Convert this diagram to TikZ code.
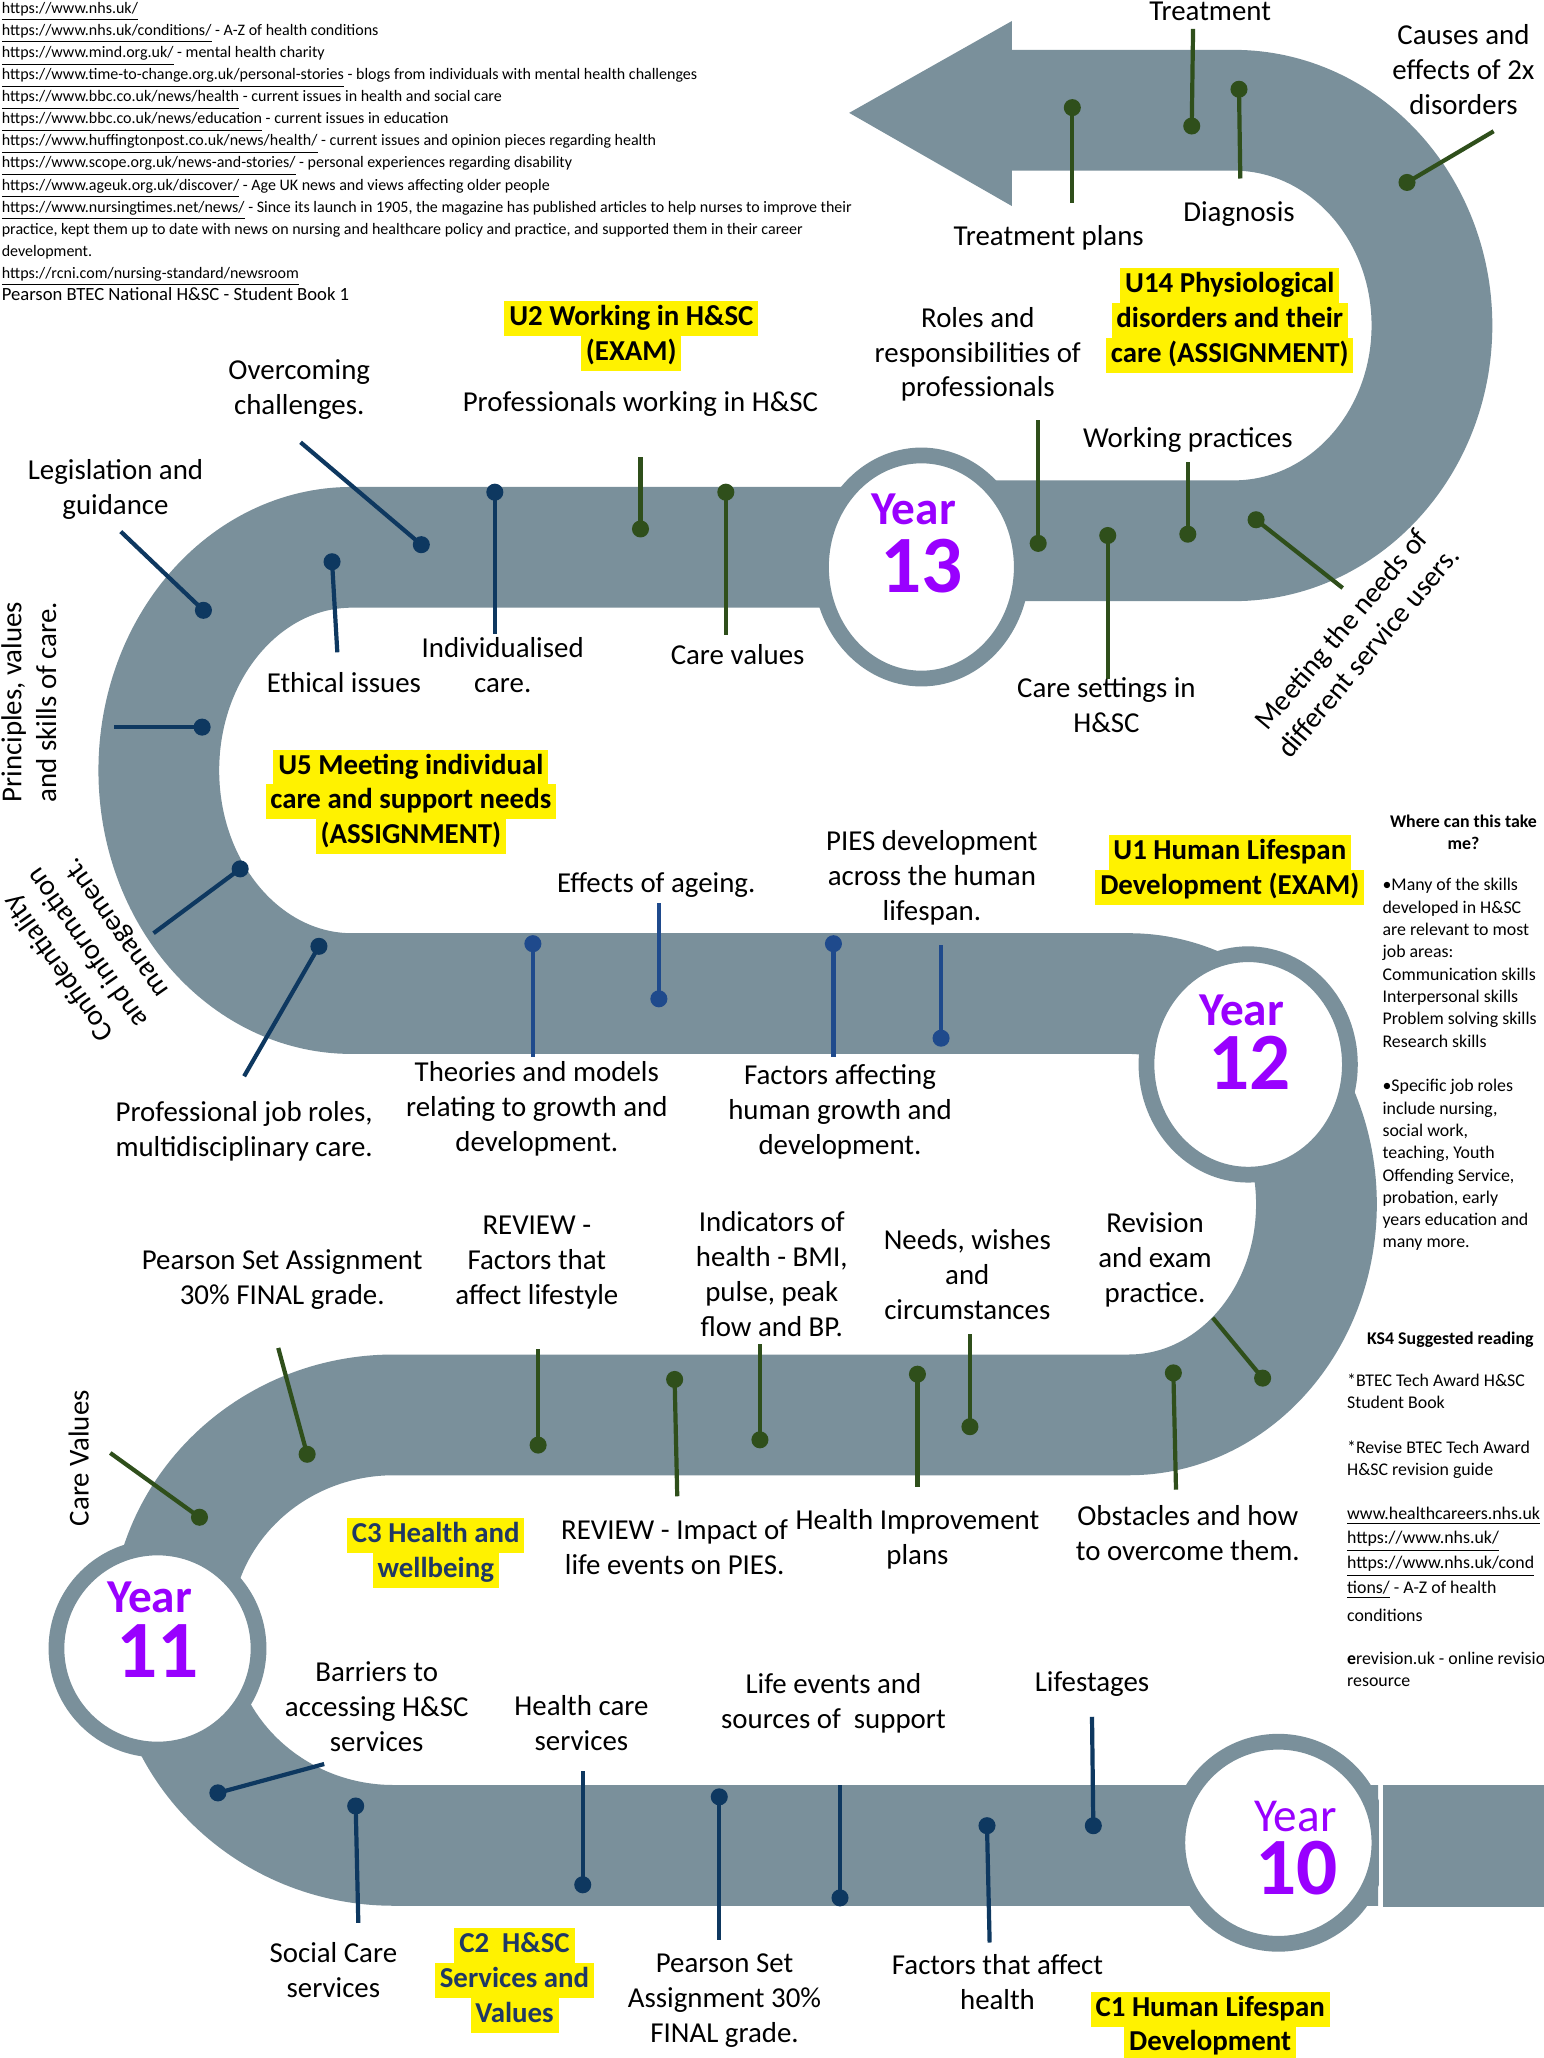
\documentclass[tikz,border=0pt]{standalone}
\usepackage{fontspec}
\setmainfont{Carlito}
\usetikzlibrary{shapes.geometric}

\definecolor{bandgrey}{RGB}{122,144,155}
\definecolor{mgreen}{RGB}{47,79,27}
\definecolor{mnavy}{RGB}{14,56,96}
\definecolor{mblue}{RGB}{31,74,140}
\definecolor{yrpurple}{RGB}{153,0,255}
\definecolor{unavy}{RGB}{31,56,100}

\newcommand{\hlbox}[1]{{\setlength{\fboxsep}{0pt}\colorbox{yellow}{\strut\,#1\,}}}

\tikzset{
	band/.style={draw=bandgrey, line width=46pt},
	yring/.style={ellipse, draw=bandgrey, fill=white, line width=6pt, inner sep=0pt},
	yrword/.style={text=yrpurple, inner sep=0pt, font=\fontsize{18}{20}\selectfont\bfseries},
	yrnum/.style={text=yrpurple, inner sep=0pt, font=\fontsize{31}{33}\selectfont\bfseries},
	lbl/.style={align=center, inner sep=0pt, font=\fontsize{11}{13.3}\selectfont},
	ulbl/.style={align=center, inner sep=0pt, font=\fontsize{11}{13.3}\selectfont\bfseries},
	side/.style={align=left, inner sep=0pt, font=\fontsize{6.8}{8.5}\selectfont},
	gdot/.style={circle, fill=mgreen, inner sep=0pt, minimum size=6.5pt},
	ndot/.style={circle, fill=mnavy, inner sep=0pt, minimum size=6.5pt},
	bdot/.style={circle, fill=mblue, inner sep=0pt, minimum size=6.5pt},
	gline/.style={draw=mgreen, line width=1.6pt},
	nline/.style={draw=mnavy, line width=1.6pt},
	bline/.style={draw=mblue, line width=1.6pt}
}

\begin{document}
\begin{tikzpicture}[x=0.5pt, y=-0.5pt]
	\useasboundingbox (0,0) rectangle (1176,1568);
	\fill[white] (0,0) rectangle (1176,1568);
	%\draw[lightgray] (0,0) grid[step=100] (1176,1568);

	% the road
	\draw[band] (1050,1406) -- (300,1406)
		.. controls (206.1,1406) and (130,1332.6) .. (130,1242)
		.. controls (130,1151.4) and (206.1,1078) .. (300,1078)
		-- (860,1078)
		.. controls (939,1078) and (1003,1006) .. (1003,917.5)
		.. controls (1003,829) and (939,757) .. (860,757)
		-- (268,757)
		.. controls (186.8,757) and (121,680.9) .. (121,587)
		.. controls (121,493.1) and (186.8,417) .. (268,417)
		-- (702,417);
	\draw[band] (702,412) -- (940,412)
		.. controls (1023.4,412) and (1091,338.6) .. (1091,248)
		.. controls (1091,157.4) and (1023.4,84) .. (940,84)
		-- (770,84);
	\fill[bandgrey] (647,86) -- (771,16) -- (771,157) -- cycle;

	% year circles
	\node[yring, minimum width=76.5pt, minimum height=85pt] (y13) at (702,432) {};
	\node[yring, minimum width=77.5pt, minimum height=84pt] (y12) at (951,811) {};
	\node[yring, minimum width=77pt, minimum height=77pt] (y11) at (120,1256) {};
	\node[yring, minimum width=77pt, minimum height=77pt] (y10) at (974,1404) {};
	\draw[white, line width=1.5pt] (1052.5,1354) -- (1052.5,1458);
	\fill[bandgrey] (1054,1360) rectangle (1180,1453);

	\node[yrword] (y13w) at (696,388) {Year};
	\node[yrnum] (y13n) at (702,431) {13};
	\node[yrword] (y12w) at (946,770) {Year};
	\node[yrnum] (y12n) at (952,810) {12};
	\node[yrword] (y11w) at (114,1217) {Year};
	\node[yrnum] (y11n) at (120,1258) {11};
	\node[yrword, font=\fontsize{18}{20}\selectfont\mdseries] (y10w) at (987,1384) {Year};
	\node[yrnum] (y10n) at (988,1423) {10};

	% year 13 - top arrow
	\node[gdot] (treat) at (908,96) {};
	\coordinate (treat-e) at (909,22);
	\draw[gline] (treat.center) -- (treat-e);
	\node[gdot] (tplan) at (817,82) {};
	\coordinate (tplan-e) at (817,155);
	\draw[gline] (tplan.center) -- (tplan-e);
	\node[gdot] (diag) at (944,68) {};
	\coordinate (diag-e) at (945,136);
	\draw[gline] (diag.center) -- (diag-e);
	\node[gdot] (cause) at (1072,139) {};
	\coordinate (cause-e) at (1138,100);
	\draw[gline] (cause.center) -- (cause-e);

	% year 13 - row
	\node[gdot] (roles) at (791,414) {};
	\coordinate (roles-e) at (791,320);
	\draw[gline] (roles.center) -- (roles-e);
	\node[gdot] (wprac) at (905,407) {};
	\coordinate (wprac-e) at (905,352);
	\draw[gline] (wprac.center) -- (wprac-e);
	\node[gdot] (csett) at (844,408) {};
	\coordinate (csett-e) at (844,517);
	\draw[gline] (csett.center) -- (csett-e);
	\node[gdot] (meet) at (957,396) {};
	\coordinate (meet-e) at (1023,448);
	\draw[gline] (meet.center) -- (meet-e);
	\node[gdot] (prof) at (488,403) {};
	\coordinate (prof-e) at (488,348);
	\draw[gline] (prof.center) -- (prof-e);
	\node[gdot] (cval) at (553,375) {};
	\coordinate (cval-e) at (553,484);
	\draw[gline] (cval.center) -- (cval-e);

	\node[ndot] (indiv) at (377,375) {};
	\coordinate (indiv-e) at (377,483);
	\draw[nline] (indiv.center) -- (indiv-e);
	\node[ndot] (overc) at (321,415) {};
	\coordinate (overc-e) at (229,337);
	\draw[nline] (overc.center) -- (overc-e);
	\node[ndot] (ethic) at (253,428) {};
	\coordinate (ethic-e) at (257,497);
	\draw[nline] (ethic.center) -- (ethic-e);
	\node[ndot] (legis) at (155,465) {};
	\coordinate (legis-e) at (92,405);
	\draw[nline] (legis.center) -- (legis-e);
	\node[ndot] (princ) at (154,554) {};
	\coordinate (princ-e) at (87,554);
	\draw[nline] (princ.center) -- (princ-e);
	\node[ndot] (confi) at (183,662) {};
	\coordinate (confi-e) at (117,711);
	\draw[nline] (confi.center) -- (confi-e);
	\node[ndot] (pjob) at (243,721) {};
	\coordinate (pjob-e) at (186,820);
	\draw[nline] (pjob.center) -- (pjob-e);

	% year 12
	\node[bdot] (ageing) at (502,761) {};
	\coordinate (ageing-e) at (502,688);
	\draw[bline] (ageing.center) -- (ageing-e);
	\node[bdot] (theory) at (406,719) {};
	\coordinate (theory-e) at (406,805);
	\draw[bline] (theory.center) -- (theory-e);
	\node[bdot] (factg) at (635,719) {};
	\coordinate (factg-e) at (635,805);
	\draw[bline] (factg.center) -- (factg-e);
	\node[bdot] (pies) at (717,791) {};
	\coordinate (pies-e) at (717,720);
	\draw[bline] (pies.center) -- (pies-e);

	% year 11
	\node[gdot] (pset3) at (234,1108) {};
	\coordinate (pset3-e) at (212,1027);
	\draw[gline] (pset3.center) -- (pset3-e);
	\node[gdot] (revf) at (410,1101) {};
	\coordinate (revf-e) at (410,1028);
	\draw[gline] (revf.center) -- (revf-e);
	\node[gdot] (indic) at (579,1097) {};
	\coordinate (indic-e) at (579,1024);
	\draw[gline] (indic.center) -- (indic-e);
	\node[gdot] (needs) at (739,1087) {};
	\coordinate (needs-e) at (739,1016);
	\draw[gline] (needs.center) -- (needs-e);
	\node[gdot] (revis) at (962,1050) {};
	\coordinate (revis-e) at (924,1004);
	\draw[gline] (revis.center) -- (revis-e);
	\node[gdot] (revi) at (514,1051) {};
	\coordinate (revi-e) at (516,1140);
	\draw[gline] (revi.center) -- (revi-e);
	\node[gdot] (himp) at (699,1047) {};
	\coordinate (himp-e) at (699,1133);
	\draw[gline] (himp.center) -- (himp-e);
	\node[gdot] (obst) at (894,1046) {};
	\coordinate (obst-e) at (896,1135);
	\draw[gline] (obst.center) -- (obst-e);
	\node[gdot] (cvalu) at (152,1156) {};
	\coordinate (cvalu-e) at (84,1107);
	\draw[gline] (cvalu.center) -- (cvalu-e);

	% year 10
	\node[ndot] (barr) at (166,1366) {};
	\coordinate (barr-e) at (247,1344);
	\draw[nline] (barr.center) -- (barr-e);
	\node[ndot] (social) at (271,1376) {};
	\coordinate (social-e) at (273,1465);
	\draw[nline] (social.center) -- (social-e);
	\node[ndot] (hcare) at (444,1436) {};
	\coordinate (hcare-e) at (444,1349);
	\draw[nline] (hcare.center) -- (hcare-e);
	\node[ndot] (lifev) at (640,1446) {};
	\coordinate (lifev-e) at (640,1360);
	\draw[nline] (lifev.center) -- (lifev-e);
	\node[ndot] (pset4) at (548,1369) {};
	\coordinate (pset4-e) at (548,1478);
	\draw[nline] (pset4.center) -- (pset4-e);
	\node[ndot] (facth) at (752,1391) {};
	\coordinate (facth-e) at (754,1480);
	\draw[nline] (facth.center) -- (facth-e);
	\node[ndot] (lstage) at (833,1391) {};
	\coordinate (lstage-e) at (832,1308);
	\draw[nline] (lstage.center) -- (lstage-e);

	% labels
	\node[lbl] (treat-l) at (922,9) {Treatment};
	\node[lbl] (tplan-l) at (799,181) {Treatment plans};
	\node[lbl] (diag-l) at (944,163) {Diagnosis};
	\node[lbl] (cause-l) at (1115,53) {Causes and\\effects of 2x\\disorders};
	\node[ulbl] (u14) at (937,244) {\hlbox{U14 Physiological}\\\hlbox{disorders and their}\\\hlbox{care (ASSIGNMENT)}};
	\node[lbl] (roles-l) at (745,270) {Roles and\\responsibilities of\\professionals};
	\node[ulbl] (u2) at (481,256) {\hlbox{U2 Working in H\&SC}\\\hlbox{(EXAM)}};
	\node[lbl] (prof-l) at (488,308) {Professionals working in H\&SC};
	\node[lbl] (wprac-l) at (905,335) {Working practices};
	\node[lbl] (csett-l) at (843,537) {Care settings in\\H\&SC};
	\node[lbl] (cval-l) at (562,499) {Care values};
	\node[lbl] (indiv-l) at (383,507) {Individualised\\care.};
	\node[lbl] (ethic-l) at (262,520) {Ethical issues};
	\node[lbl] (overc-l) at (228,297) {Overcoming\\challenges.};
	\node[lbl] (legis-l) at (88,373) {Legislation and\\guidance};
	\node[lbl, rotate=90] (princ-l) at (22,535) {Principles, values\\and skills of care.};
	\node[lbl, rotate=125] (confi-l) at (67,722) {Confidentiality\\and information\\management.};
	\node[lbl] (pjob-l) at (186,862) {Professional job roles,\\multidisciplinary care.};
	\node[lbl, rotate=50] (meet-l) at (1032,488) {Meeting the needs of\\different service users.};
	\node[ulbl] (u5) at (313,611) {\hlbox{U5 Meeting individual}\\\hlbox{care and support needs}\\\hlbox{(ASSIGNMENT)}};

	\node[lbl] (ageing-l) at (500,674) {Effects of ageing.};
	\node[lbl] (pies-l) at (710,669) {PIES development\\across the human\\lifespan.};
	\node[ulbl] (u1) at (937,663) {\hlbox{U1 Human Lifespan}\\\hlbox{Development (EXAM)}};
	\node[lbl] (theory-l) at (409,845) {Theories and models\\relating to growth and\\development.};
	\node[lbl] (factg-l) at (640,847) {Factors affecting\\human growth and\\development.};

	\node[lbl] (pset3-l) at (215,975) {Pearson Set Assignment\\30\% FINAL grade.};
	\node[lbl] (revf-l) at (409,962) {REVIEW -\\Factors that\\affect lifestyle};
	\node[lbl] (indic-l) at (588,971) {Indicators of\\health - BMI,\\pulse, peak\\flow and BP.};
	\node[lbl] (needs-l) at (737,971) {Needs, wishes\\and\\circumstances};
	\node[lbl] (revis-l) at (880,960) {Revision\\and exam\\practice.};
	\node[ulbl, text=unavy] (c3) at (332,1183) {\hlbox{C3 Health and}\\\hlbox{wellbeing}};
	\node[lbl] (revi-l) at (514,1179) {REVIEW - Impact of\\life events on PIES.};
	\node[lbl] (himp-l) at (699,1173) {Health Improvement\\plans};
	\node[lbl] (obst-l) at (905,1168) {Obstacles and how\\to overcome them.};
	\node[lbl, rotate=90] (cvalu-l) at (60,1111) {Care Values};

	\node[lbl] (barr-l) at (287,1300) {Barriers to\\accessing H\&SC\\services};
	\node[lbl] (hcare-l) at (443,1313) {Health care\\services};
	\node[lbl] (lifev-l) at (635,1298) {Life events and\\sources of\ \ support};
	\node[lbl] (lstage-l) at (832,1283) {Lifestages};
	\node[lbl] (social-l) at (254,1501) {Social Care\\services};
	\node[ulbl, text=unavy] (c2) at (392,1509) {\hlbox{C2\ \ H\&SC}\\\hlbox{Services and}\\\hlbox{Values}};
	\node[lbl] (pset4-l) at (552,1524) {Pearson Set\\Assignment 30\%\\FINAL grade.};
	\node[lbl] (facth-l) at (760,1510) {Factors that affect\\health};
	\node[ulbl] (c1) at (922,1544) {\hlbox{C1 Human Lifespan}\\\hlbox{Development}};

	% reading lists
	\node[align=left, inner sep=0pt, anchor=north west, font=\fontsize{6.1}{8.4}\selectfont] (links) at (1,1.5) {%
		\underline{https://www.nhs.uk/}\\
		\underline{https://www.nhs.uk/conditions/} - A-Z of health conditions\\
		\underline{https://www.mind.org.uk/} - mental health charity\\
		\underline{https://www.time-to-change.org.uk/personal-stories} - blogs from individuals with mental health challenges\\
		\underline{https://www.bbc.co.uk/news/health} - current issues in health and social care\\
		\underline{https://www.bbc.co.uk/news/education} - current issues in education\\
		\underline{https://www.huffingtonpost.co.uk/news/health/} - current issues and opinion pieces regarding health\\
		\underline{https://www.scope.org.uk/news-and-stories/} - personal experiences regarding disability\\
		\underline{https://www.ageuk.org.uk/discover/} - Age UK news and views affecting older people\\
		\underline{https://www.nursingtimes.net/news/} - Since its launch in 1905, the magazine has published articles to help nurses to improve their\\
		practice, kept them up to date with news on nursing and healthcare policy and practice, and supported them in their career\\
		development.\\
		\underline{https://rcni.com/nursing-standard/newsroom}\\
		{\fontsize{7.1}{8.4}\selectfont Pearson BTEC National H\&SC - Student Book 1}};

	\node[side, align=center, font=\fontsize{6.8}{8.5}\selectfont\bfseries] (where) at (1115,634) {Where can this take\\me?};
	\node[side, anchor=north west] (where-b) at (1053,669) {%
		•Many of the skills\\
		developed in H\&SC\\
		are relevant to most\\
		job areas:\\
		Communication skills\\
		Interpersonal skills\\
		Problem solving skills\\
		Research skills\\[8.5pt]
		•Specific job roles\\
		include nursing,\\
		social work,\\
		teaching, Youth\\
		Offending Service,\\
		probation, early\\
		years education and\\
		many more.};

	\node[side, align=center, font=\fontsize{6.8}{8.5}\selectfont\bfseries] (ks4) at (1105,1021) {KS4 Suggested reading};
	\node[side, anchor=north west] (ks4-b) at (1026,1046) {%
		*BTEC Tech Award H\&SC\\
		Student Book\\[8.5pt]
		*Revise BTEC Tech Award\\
		H\&SC revision guide\\[8.5pt]
		\underline{www.healthcareers.nhs.uk}\\[0.5pt]
		\underline{https://www.nhs.uk/}\\[1pt]
		\underline{https://www.nhs.uk/cond}\\[1pt]
		\underline{tions/} - A-Z of health\\[2pt]
		conditions\\[8pt]
		\textbf{e}revision.uk - online revision\\
		resource};
\end{tikzpicture}
\end{document}
